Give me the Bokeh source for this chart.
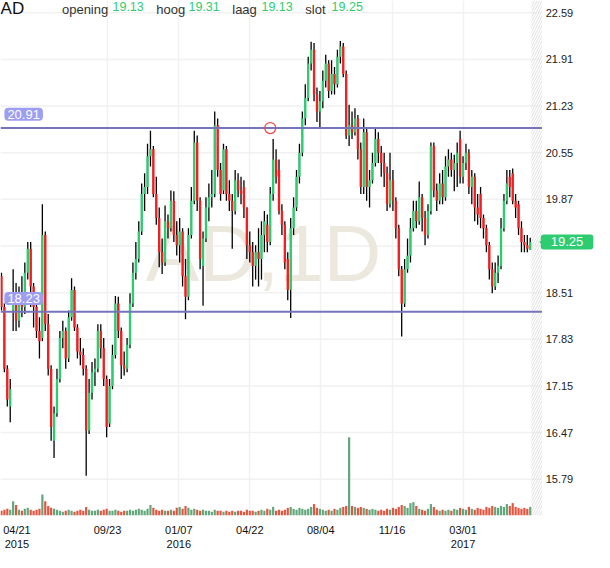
import numpy as np
from bokeh.plotting import figure
from bokeh.models import Range1d, FixedTicker, Label
from bokeh.embed import file_html
from bokeh.resources import INLINE
from bokeh.core.properties import value

# ---------------- data ----------------
opens = [18.75,18.30,17.40,16.85,18.25,18.45,18.10,18.45,18.30,18.80,19.15,18.60,18.30,17.95,17.85,19.35,18.05,17.40,16.35,16.75,
         17.25,17.85,17.95,17.55,18.15,18.55,18.00,17.65,17.60,17.40,16.50,17.05,17.35,17.40,17.95,17.70,17.25,16.60,17.15,17.60,
         18.35,17.95,17.45,17.40,17.75,18.35,18.80,19.00,19.40,19.95,20.05,20.50,20.60,19.95,19.60,19.10,18.95,19.55,19.45,19.85,
         19.35,19.20,19.40,18.75,18.45,19.35,19.85,20.70,19.85,18.90,19.30,19.75,19.90,19.95,20.95,20.30,20.00,20.60,19.95,19.85,
         19.70,20.15,20.00,20.05,19.75,19.20,19.10,18.90,19.10,19.00,19.35,19.50,19.25,19.95,20.45,20.30,19.70,19.50,19.00,18.55,
         19.45,19.75,20.20,20.55,21.05,21.35,21.85,22.05,21.40,21.15,21.30,21.60,21.85,21.45,21.70,21.55,21.95,22.10,21.70,20.80,
         20.95,20.85,21.05,20.60,20.05,20.85,20.05,20.15,20.40,20.75,20.55,20.40,20.25,19.80,20.15,19.85,19.45,18.85,18.35,18.85,
         19.05,19.45,19.70,19.55,19.90,19.60,19.35,19.70,20.65,20.00,19.85,20.10,19.90,20.35,20.45,20.30,20.40,20.75,20.20,20.40,
         20.55,20.05,20.20,19.75,19.95,19.60,19.45,19.20,18.85,18.60,18.80,18.90,19.45,19.85,20.20,20.25,19.85,19.80,19.45,19.25,
         19.20,19.13]
highs = [18.80,18.35,17.45,17.25,18.85,18.65,18.60,18.75,18.95,19.25,19.25,18.65,18.40,18.15,19.80,19.40,18.20,17.45,16.85,17.40,
         17.95,18.10,18.00,18.25,18.72,18.60,18.05,17.85,17.70,17.45,17.25,17.50,17.55,18.05,18.05,17.85,17.30,17.25,17.75,18.46,
         18.45,18.00,17.65,17.85,18.50,18.95,19.25,19.55,20.10,20.25,20.68,20.87,20.65,20.20,19.75,19.30,19.78,19.65,20.00,19.99,
         19.55,19.60,19.45,19.00,19.45,20.05,20.87,20.80,19.90,19.40,19.90,20.10,20.30,21.15,21.05,20.40,20.68,20.65,20.15,19.95,
         20.30,20.25,20.20,20.15,19.75,19.40,19.25,19.20,19.45,19.55,19.70,19.65,20.05,20.75,20.60,20.45,19.80,19.55,19.10,19.60,
         19.90,20.30,20.68,21.15,21.55,21.95,22.17,22.15,21.50,21.45,21.75,21.98,21.90,21.90,21.80,22.05,22.18,22.15,21.75,21.25,
         21.15,21.20,21.10,20.70,21.05,20.90,20.30,20.55,20.92,20.85,20.65,20.55,20.35,20.55,20.30,19.90,19.50,18.90,19.00,19.30,
         19.60,19.85,19.85,20.13,19.95,19.70,19.80,20.70,20.70,20.10,20.25,20.30,20.50,20.60,20.55,20.52,20.70,20.87,20.50,20.68,
         20.60,20.30,20.25,19.95,20.05,19.65,19.50,19.25,18.95,18.95,19.05,19.60,19.95,20.30,20.30,20.32,19.95,19.85,19.55,19.35,
         19.35,19.31]
lows = [18.25,17.35,16.85,16.62,17.95,17.95,18.00,18.15,18.20,18.70,18.30,18.00,17.85,17.55,17.80,17.95,17.30,16.35,16.10,16.70,
        17.20,17.70,17.40,17.50,18.10,17.95,17.55,17.45,17.30,15.84,16.45,16.95,17.15,17.35,17.55,17.15,16.40,16.55,17.10,17.55,
        17.85,17.25,17.30,17.35,17.70,18.30,18.70,18.95,19.35,19.70,19.95,20.35,19.90,19.50,18.88,18.78,18.90,19.30,19.40,19.25,
        19.05,18.95,18.60,18.12,18.40,19.30,19.80,19.70,18.85,18.32,19.25,19.55,19.75,19.90,20.20,19.85,19.95,19.85,19.70,19.15,
        19.65,19.90,19.80,19.60,19.00,18.95,18.60,18.70,18.60,18.70,19.10,19.10,19.20,19.85,20.10,19.65,19.35,18.85,18.40,18.14,
        19.35,19.70,20.10,20.50,20.95,21.30,21.75,21.30,21.00,20.92,21.20,21.50,21.35,21.40,21.40,21.50,21.85,21.65,20.75,20.65,
        20.75,20.80,20.45,19.95,19.95,19.85,19.75,20.10,20.35,20.40,20.20,20.05,19.70,19.75,19.70,19.30,18.75,17.87,18.30,18.80,
        18.95,19.40,19.45,19.50,19.40,19.20,19.30,19.65,19.90,19.70,19.80,19.80,19.85,20.20,20.20,19.99,20.05,20.10,20.10,20.30,
        19.95,19.80,19.55,19.50,19.45,19.30,19.10,18.70,18.50,18.55,18.65,18.85,19.40,19.80,19.90,19.80,19.60,19.35,19.10,19.10,
        19.10,19.13]
closes = [18.30,17.40,16.95,17.10,18.40,18.10,18.45,18.30,18.80,19.15,18.60,18.30,17.95,17.80,19.35,18.05,17.40,16.55,16.75,17.25,
          17.85,17.95,17.55,18.15,18.55,18.00,17.65,17.60,17.40,16.50,17.05,17.35,17.40,17.95,17.70,17.25,16.55,17.15,17.60,18.35,
          17.95,17.45,17.40,17.75,18.35,18.80,19.00,19.40,19.95,20.05,20.50,20.60,19.95,19.60,19.10,18.95,19.55,19.45,19.85,19.35,
          19.20,19.40,18.75,18.45,19.35,19.85,20.70,19.85,19.00,19.30,19.75,19.90,19.95,20.95,20.30,19.95,20.60,19.95,19.85,19.70,
          20.15,20.00,19.95,19.75,19.20,19.10,18.90,19.10,19.00,19.35,19.55,19.25,19.95,20.45,20.20,19.70,19.50,18.95,18.55,19.45,
          19.75,20.20,20.55,21.05,21.35,21.85,22.05,21.40,21.15,21.30,21.60,21.85,21.45,21.70,21.55,21.95,22.10,21.70,20.80,20.95,
          20.85,21.05,20.60,20.05,20.85,20.05,20.15,20.40,20.75,20.55,20.40,20.25,19.80,20.15,19.85,19.45,18.85,18.35,18.85,19.05,
          19.45,19.70,19.55,19.90,19.60,19.35,19.70,20.65,20.00,19.85,20.10,19.90,20.35,20.45,20.30,20.40,20.55,20.20,20.40,20.55,
          20.05,20.20,19.75,19.65,19.60,19.45,19.20,18.85,18.60,18.80,18.90,19.45,19.85,20.10,20.05,19.85,19.75,19.45,19.25,19.20,
          19.15,19.25]
volumes = [5,6,7,6,15,11,6,5,7,8,6,5,6,7,22,15,10,8,7,6,
           5,4,5,6,5,4,5,6,5,9,6,5,5,6,5,6,7,5,5,6,
           5,4,5,5,6,5,6,7,6,5,7,11,8,6,5,6,5,5,6,5,
           8,9,7,10,8,6,7,6,5,6,5,5,4,6,5,5,4,5,4,5,
           4,5,5,4,6,5,5,4,5,6,5,7,6,9,5,6,5,6,8,9,
           7,6,8,7,6,7,9,12,8,7,6,5,6,5,7,6,8,9,10,82,
           10,9,8,9,8,7,6,7,6,5,6,5,7,6,8,7,9,11,10,8,
           13,14,10,7,6,5,7,12,9,6,5,6,5,6,5,7,6,8,7,6,
           9,7,6,8,7,6,9,8,10,9,8,10,9,12,10,13,9,8,7,8,
           7,9]

x_tick_labels = ["04/21\n2015", "09/23", "01/07\n2016", "04/22", "08/04", "11/16", "03/01\n2017"]
x_tick_bars = [5.3, 36.3, 60.7, 85.0, 109.3, 133.7, 158.0]
y_ticks = [15.79, 16.47, 17.15, 17.83, 18.51, 19.19, 19.87, 20.55, 21.23, 21.91, 22.59]
hidden_y_tick = 19.19
levels = [20.91, 18.23]
alert_bar = 92
head_names = ["opening", "hoog", "laag", "slot"]
head_values = [19.13, 19.31, 19.13, 19.25]
last_price = 19.25
symbol = "AD"
watermark = "AD,1D"

# ---------------- styling / layout ----------------
GREEN = "#2ecc71"
RED = "#f51d1d"
VGREEN = "#62a67c"
VRED = "#e2553f"
LEVEL = "#7474bb"
LEVEL_BOX = "#9d9df2"
GRID = "#f1f1f1"
FONT = "Liberation Sans"

n = len(closes)
idx = np.arange(n)
o = np.array(opens); c = np.array(closes)
up = c >= o
body_col = [GREEN if u else RED for u in up]
vol_col = [VGREEN if u else VRED for u in up]

Y0, Y1 = 15.26, 22.77          # price range of the drawing area
X0, X1 = -0.33, 203.0          # whole canvas width, including the price-scale strip
XE = 185.0                     # right edge of the chart area (start of price scale)
XL = 186.3                     # left edge of the price labels

p = figure(width=594, height=552, x_range=Range1d(X0, X1), y_range=Range1d(Y0, Y1),
           output_backend="svg", toolbar_location=None, y_axis_location=None,
           min_border_left=0, min_border_top=0, min_border_right=0, min_border_bottom=28)
p.outline_line_color = None
p.background_fill_color = "white"
p.border_fill_color = "white"

# vertical grid
p.xgrid.ticker = FixedTicker(ticks=x_tick_bars[1:])
p.xgrid.grid_line_color = GRID
p.xgrid.grid_line_width = 1.5
for g in p.ygrid:
    g.visible = False

# horizontal grid, limited to the chart area
p.segment(x0=[X0] * len(y_ticks), y0=y_ticks, x1=[XE] * len(y_ticks), y1=y_ticks,
          line_color=GRID, line_width=1.5)

# x axis
p.xaxis.ticker = FixedTicker(ticks=x_tick_bars)
p.xaxis.major_label_overrides = {t: lab for t, lab in zip(x_tick_bars, x_tick_labels)}
p.xaxis.axis_line_color = None
p.xaxis.major_tick_line_color = None
p.xaxis.minor_tick_line_color = None
p.xaxis.major_label_standoff = 2
p.xaxis.major_label_text_font_size = "11px"
p.xaxis.major_label_text_font = FONT
p.xaxis.major_label_text_color = "#111111"

# price scale labels (right)
shown = [t for t in y_ticks if t != hidden_y_tick]
p.text(x=[XL] * len(shown), y=shown, text=[f"{t:.2f}" for t in shown], text_font=value(FONT),
       text_font_size="11px", text_color="#222222", text_align="left", text_baseline="middle")

# watermark
p.text(x=[89.7], y=[19.08], text=[watermark], text_font=value(FONT), text_font_size="80px",
       text_color="#ece8dd", text_align="center", text_baseline="middle")

# hatched future zone
p.quad(left=[181.4], right=[XE], bottom=[Y0], top=[Y1], fill_color=None, line_color=None,
       hatch_pattern="/", hatch_color="#e0e0e0", hatch_scale=5, hatch_weight=1)

# volume on its own range
p.extra_y_ranges = {"vol": Range1d(0, 540)}
p.vbar(x=idx, top=volumes, bottom=0, width=0.75, fill_color=vol_col, line_color=None, y_range_name="vol")

# candles
p.segment(x0=idx, y0=lows, x1=idx, y1=highs, line_color="black", line_width=1.3)
p.vbar(x=idx, top=np.maximum(o, c), bottom=np.minimum(o, c), width=0.8, fill_color=body_col, line_color=None)

# horizontal levels
p.segment(x0=[X0] * len(levels), y0=levels, x1=[XE] * len(levels), y1=levels,
          line_color=LEVEL, line_width=2)

p.scatter(x=[alert_bar], y=[levels[0]], size=11, marker="circle", fill_color="white",
          fill_alpha=0.0, line_color="#f04848", line_width=1.3)

# level tags
for lv, yy in zip(levels, [21.11, 18.425]):
    p.add_layout(Label(x=1.0, y=yy, text=f"{lv:.2f}", text_font=FONT, text_font_size="13px",
                       text_color="white", text_align="left", text_baseline="middle",
                       background_fill_color=LEVEL_BOX, border_radius=4,
                       padding=dict(left=3, right=3, top=2, bottom=2)))

# last price tag on the price scale
p.scatter(x=[185.6], y=[last_price], marker="triangle", angle=np.pi / 2, size=8,
          fill_color=GREEN, line_color=None)
p.add_layout(Label(x=193.6, y=last_price, text=f"{last_price:.2f}", text_font=FONT,
                   text_font_size="13px", text_color="white", text_align="center", text_baseline="middle",
                   background_fill_color=GREEN, border_radius=3,
                   padding=dict(left=10, right=10, top=3, bottom=3)))

# header
p.add_layout(Label(x=-0.3, y=22.655, text=symbol, text_font=FONT, text_font_size="17px",
                   text_color="#111111", text_align="left", text_baseline="middle"))
name_x = [20.7, 53.0, 79.0, 104.0]
val_x = [38.0, 64.0, 89.0, 113.0]
for nm, vv, nx, vx in zip(head_names, head_values, name_x, val_x):
    p.add_layout(Label(x=nx, y=22.635, text=nm, text_font=FONT, text_font_size="13px",
                       text_color="#333333", text_align="left", text_baseline="middle"))
    p.add_layout(Label(x=vx, y=22.685, text=f"{vv:.2f}", text_font=FONT, text_font_size="12.5px",
                       text_color=GREEN, text_align="left", text_baseline="middle"))

open("out.html", "w").write(file_html(p, INLINE))
